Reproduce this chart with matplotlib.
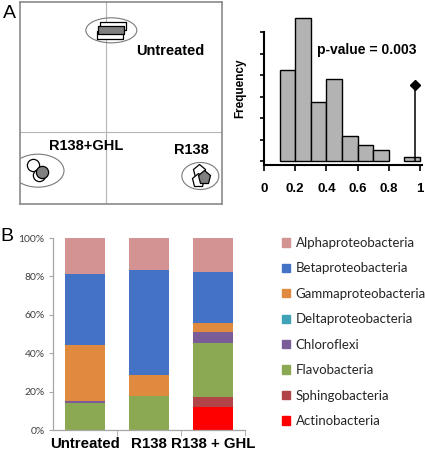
import numpy as np
import matplotlib
matplotlib.use("Agg")
import matplotlib.pyplot as plt
from matplotlib.patches import Ellipse
from matplotlib.path import Path

# ---------------- data ----------------
# Panel A (ordination)
untreated_x = [0.035, 0.020, 0.025]
untreated_y = [0.530, 0.485, 0.510]
untreated_fill = ["white", "white", "#808080"]
ghl_x = [-0.365, -0.335, -0.320]
ghl_y = [-0.165, -0.215, -0.200]
ghl_fill = ["white", "white", "#808080"]
r138_x = [0.465, 0.460, 0.490]
r138_y = [-0.195, -0.240, -0.225]
r138_fill = ["white", "white", "#808080"]
group_labels = ["Untreated", "R138+GHL", "R138"]

# Panel A (histogram)
hist_left = [0.1, 0.2, 0.3, 0.4, 0.5, 0.6, 0.7, 0.9]
hist_height = [4.24, 6.65, 2.73, 3.82, 1.14, 0.73, 0.51, 0.17]
observed_x = 0.97
observed_y = 3.55
hist_ticks = [0, 0.2, 0.4, 0.6, 0.8, 1.0]
hist_ticklabels = ["0", "0.2", "0.4", "0.6", "0.8", "1"]
pvalue_text = "p-value = 0.003"

# Panel B (stacked composition)
samples = ["Untreated", "R138", "R138 + GHL"]
taxa = ["Actinobacteria", "Sphingobacteria", "Flavobacteria", "Chloroflexi",
        "Deltaproteobacteria", "Gammaproteobacteria", "Betaproteobacteria",
        "Alphaproteobacteria"]
actino = [0.0, 0.0, 12.2]
sphingo = [0.0, 0.0, 4.8]
flavo = [14.1, 17.5, 28.2]
chloro = [0.9, 0.0, 6.1]
delta = [0.0, 0.0, 0.0]
gamma = [29.3, 11.0, 4.4]
beta = [36.9, 55.0, 26.4]
alpha = [18.8, 16.5, 17.9]
taxa_values = [actino, sphingo, flavo, chloro, delta, gamma, beta, alpha]
taxa_colors = ["#FF0000", "#B04446", "#8BA852", "#7A5C99", "#3FA2B6",
               "#E08A3F", "#4472C4", "#D49393"]
pct_ticks = [0, 20, 40, 60, 80, 100]

# ---------------- figure ----------------
W, H = 425, 454
fig = plt.figure(figsize=(W / 100, H / 100), dpi=100)
bold = dict(family="Liberation Sans", weight="bold")

# ---- scatter panel ----
ax1 = fig.add_axes([20 / W, 1 - 204 / H, 202 / W, 202 / H])
ax1.set_xlim(-0.43, 0.58)
ax1.set_ylim(-0.36, 0.65)
for s in ax1.spines.values():
    s.set_color("#8a8a8a")
    s.set_linewidth(1.2)
ax1.set_xticks([])
ax1.set_yticks([])
ax1.axvline(0, color="#b5b5b5", lw=0.8, zorder=0)
ax1.axhline(0, color="#b5b5b5", lw=0.8, zorder=0)

rect_marker = Path([(-1.5, -0.45), (1.5, -0.45), (1.5, 0.45), (-1.5, 0.45), (-1.5, -0.45)],
                   [Path.MOVETO, Path.LINETO, Path.LINETO, Path.LINETO, Path.CLOSEPOLY])

groups = [
    (untreated_x, untreated_y, untreated_fill, rect_marker, 19, 0.255, 0.125),
    (ghl_x, ghl_y, ghl_fill, "o", 8.8, 0.26, 0.165),
    (r138_x, r138_y, r138_fill, "p", 9.8, 0.185, 0.135),
]
for gx, gy, gf, mk, ms, ew, eh in groups:
    cx, cy = np.mean(gx), np.mean(gy)
    ax1.add_patch(Ellipse((cx, cy), ew, eh, facecolor="none",
                          edgecolor="#7a7a7a", lw=0.8, zorder=1))
    for x, y, f in zip(gx, gy, gf):
        ax1.plot(x, y, marker=mk, ms=ms, mfc=f, mec="black", mew=0.9,
                 linestyle="none", zorder=3 if f != "white" else 2)

ax1.text(0.32, 0.405, group_labels[0], ha="center", va="center", fontsize=10.5, **bold)
ax1.text(-0.10, -0.07, group_labels[1], ha="center", va="center", fontsize=10.5, **bold)
ax1.text(0.425, -0.09, group_labels[2], ha="center", va="center", fontsize=10.5, **bold)

fig.text(3 / W, 1 - 13 / H, "A", fontsize=14, family="Liberation Sans",
         ha="left", va="center")

# ---- histogram panel ----
ax2 = fig.add_axes([264 / W, 1 - 165 / H, (421.5 - 264) / W, (165 - 32) / H])
ax2.set_xlim(0, 1.01)
ax2.set_ylim(-0.186, 6)
ax2.bar(hist_left, hist_height, width=0.1, align="edge", color="#b3b3b3",
        edgecolor="black", linewidth=1.0, clip_on=False, zorder=2)
ax2.plot([observed_x, observed_x], [0, observed_y], color="black", lw=1.1,
         zorder=3, clip_on=False)
ax2.plot([observed_x], [observed_y], marker="D", ms=5, color="black",
         zorder=4, clip_on=False)
ax2.spines["top"].set_visible(False)
ax2.spines["right"].set_visible(False)
ax2.spines["left"].set_linewidth(1.5)
ax2.spines["bottom"].set_linewidth(1.5)
ax2.set_yticks(range(7))
ax2.set_yticklabels([])
ax2.tick_params(axis="y", direction="out", length=3, width=1.2)
ax2.set_xticks(hist_ticks)
ax2.set_xticklabels(hist_ticklabels)
ax2.tick_params(axis="x", direction="out", length=4, width=1.2, pad=9)
for lab in ax2.get_xticklabels():
    lab.set_fontfamily("Liberation Sans")
    lab.set_fontweight("bold")
    lab.set_fontsize(9.5)
ax2.text(0.657, 5.16, pvalue_text, ha="center", va="center", fontsize=10, **bold)
fig.text(240 / W, 1 - 88 / H, "Frequency", rotation=90, ha="center",
         va="center", fontsize=8.5, **bold)

# ---- stacked bar panel ----
ax3 = fig.add_axes([53 / W, 1 - 430 / H, (245 - 53) / W, 192 / H])
xpos = np.arange(len(samples))
bottom = np.zeros(len(samples))
for vals, col in zip(taxa_values, taxa_colors):
    ax3.bar(xpos, vals, bottom=bottom, width=0.64, color=col, linewidth=0)
    bottom += np.array(vals)
ax3.set_xlim(-0.5, 2.5)
ax3.set_ylim(0, 100)
ax3.spines["top"].set_visible(False)
ax3.spines["right"].set_visible(False)
for s in ["left", "bottom"]:
    ax3.spines[s].set_color("#a6a6a6")
    ax3.spines[s].set_linewidth(0.9)
ax3.set_yticks(pct_ticks)
ax3.set_yticklabels([f"{v}%" for v in pct_ticks])
ax3.tick_params(axis="y", direction="out", length=3, color="#a6a6a6",
                labelsize=7.5, labelcolor="#404040", pad=3)
for lab in ax3.get_yticklabels():
    lab.set_fontfamily("Lato")
ax3.set_xticks(xpos)
ax3.set_xticklabels(samples)
ax3.set_xticks([0.5, 1.5, 2.5], minor=True)
ax3.tick_params(axis="x", which="major", length=0, pad=5)
ax3.tick_params(axis="x", which="minor", direction="out", length=4,
                color="#a6a6a6")
for lab in ax3.get_xticklabels():
    lab.set_fontfamily("Liberation Sans")
    lab.set_fontweight("bold")
    lab.set_fontsize(10.8)

fig.text(0 / W, 1 - 237 / H, "B", fontsize=14, family="Liberation Sans",
         ha="left", va="center")

# legend (reverse order: Alpha on top)
handles = [plt.Rectangle((0, 0), 1, 1, color=c) for c in taxa_colors[::-1]]
leg = fig.legend(handles, taxa[::-1], loc="upper left",
                 bbox_to_anchor=(282 / W, 1 - 237 / H), frameon=False,
                 prop=dict(family="Lato", size=9.5), handlelength=0.6,
                 handleheight=0.6, handletextpad=0.45, labelspacing=1.02,
                 borderaxespad=0, borderpad=0)
for t in leg.get_texts():
    t.set_color("#262626")

fig.savefig("out.png", dpi=100)
